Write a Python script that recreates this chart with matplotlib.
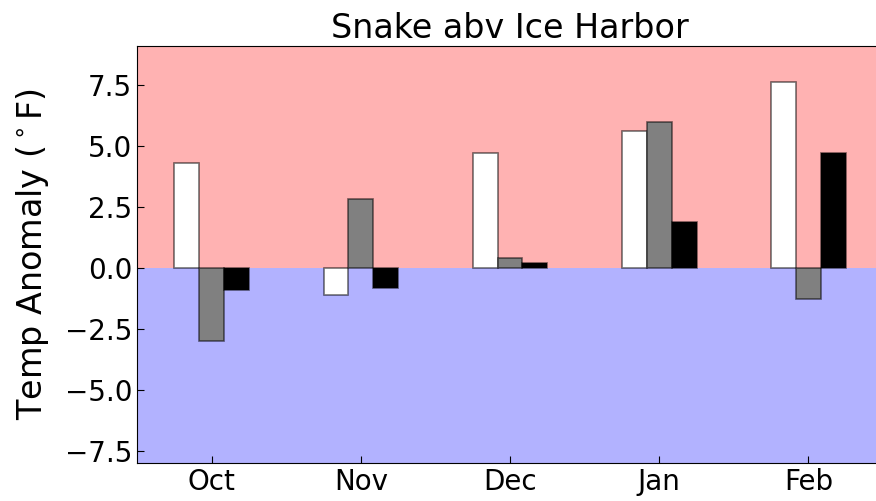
import numpy as np
import matplotlib
matplotlib.use("Agg")
import matplotlib.pyplot as plt

months = ["Oct", "Nov", "Dec", "Jan", "Feb"]
series_a = [4.32, -1.10, 4.71, 5.63, 7.63]   # white
series_b = [-2.99, 2.82, 0.41, 6.00, -1.28]  # gray
series_c = [-0.90, -0.83, 0.20, 1.90, 4.70]  # black

fig = plt.figure(figsize=(8.76, 5.01), dpi=100)
ax = fig.add_axes([137/876, 1 - 463/501, 746/876, (463-46)/501])

ymin, ymax = -8.0, 9.1
ax.axhspan(0, ymax, color="red", alpha=0.3, lw=0)
ax.axhspan(ymin, 0, color="blue", alpha=0.3, lw=0)

x = np.arange(len(months))
w = 1/6
edge = (0, 0, 0, 0.55)
ax.bar(x - w, series_a, w, color="white", edgecolor=edge, lw=1.2)
ax.bar(x, series_b, w, color="gray", edgecolor=edge, lw=1.2)
ax.bar(x + w, series_c, w, color="black", edgecolor=edge, lw=1.2)

ax.set_xlim(-0.5, 4.5)
ax.set_ylim(ymin, ymax)
ax.set_yticks([-7.5, -5.0, -2.5, 0.0, 2.5, 5.0, 7.5])
ax.set_xticks(x)
ax.set_xticklabels(months)
ax.tick_params(direction="in", labelsize=20, length=5)
ax.set_ylabel("Temp Anomaly ($^\\circ$F)", fontsize=24, labelpad=10)
ax.set_title("Snake abv Ice Harbor", fontsize=24)

fig.savefig("out.png", dpi=100)
